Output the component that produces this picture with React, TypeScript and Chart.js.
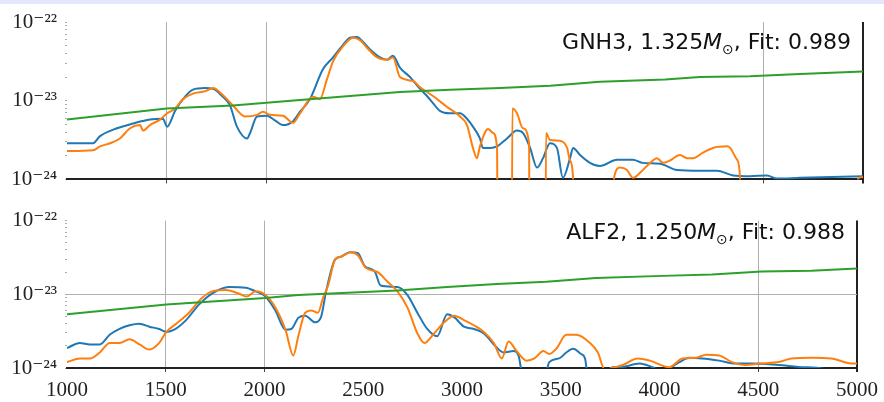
import React, { useEffect, useRef } from 'react';
import { Chart, registerables } from 'chart.js';

Chart.register(...registerables);

// ---- axis ticks ----
const xTickValues = [1000, 1500, 2000, 2500, 3000, 3500, 4000, 4500, 5000];
const xTickLabels = ['1000', '1500', '2000', '2500', '3000', '3500', '4000', '4500', '5000'];
const xGridShown = [1500, 2000, 4500];
const yTickValues = [1e-24, 1e-23, 1e-22];
const yTickLabels = ['10⁻²⁴', '10⁻²³', '10⁻²²'];

// ---- panel labels ----
const panelNames = ['GNH3', 'ALF2'];
const panelMasses = ['1.325', '1.250'];
const panelFits = ['0.989', '0.988'];

// ---- series: [wavelength, log10(value)] ----
const topBlue: [number, number][] = [
  [1000, -23.54], [1131, -23.54], [1166, -23.45], [1251, -23.35], [1332, -23.29], [1417, -23.24], [1482, -23.23],
  [1503, -23.33], [1543, -23.13], [1583, -22.98], [1633, -22.86], [1693, -22.84], [1734, -22.85], [1779, -22.94],
  [1819, -23.06], [1854, -23.33], [1905, -23.48], [1920, -23.41], [1955, -23.2], [2005, -23.19], [2045, -23.25],
  [2085, -23.31], [2136, -23.26], [2171, -23.14], [2221, -22.98], [2286, -22.6], [2337, -22.45], [2387, -22.29],
  [2422, -22.2], [2457, -22.19], [2487, -22.25], [2523, -22.35], [2573, -22.45], [2608, -22.48], [2638, -22.43],
  [2673, -22.58], [2724, -22.7], [2774, -22.85], [2809, -22.94], [2839, -23.03], [2874, -23.13], [2925, -23.16],
  [2975, -23.16], [3010, -23.23], [3040, -23.33], [3075, -23.48], [3090, -23.6], [3126, -23.6], [3161, -23.58],
  [3211, -23.48], [3261, -23.38], [3291, -23.41], [3327, -23.6], [3362, -23.85], [3392, -23.73], [3427, -23.54],
  [3462, -23.6], [3492, -23.98], [3528, -23.73], [3543, -23.6], [3578, -23.69], [3628, -23.79], [3678, -23.83],
  [3764, -23.75], [3844, -23.75], [3894, -23.79], [3980, -23.8], [4065, -23.88], [4181, -23.89], [4266, -23.89],
  [4347, -23.95], [4432, -23.96], [4518, -23.95], [4568, -23.99], [4683, -23.98], [5000, -23.96],
];

const topOrange: [number, number][] = [
  [1000, -23.64], [1131, -23.63], [1166, -23.58], [1216, -23.54], [1266, -23.48], [1317, -23.35], [1367, -23.31],
  [1382, -23.38], [1417, -23.31], [1467, -23.24], [1503, -23.16], [1543, -23.1], [1583, -22.98], [1633, -22.91],
  [1693, -22.88], [1734, -22.84], [1784, -22.93], [1834, -23.06], [1894, -23.2], [1955, -23.18], [1985, -23.14],
  [2020, -23.18], [2085, -23.19], [2136, -23.28], [2171, -23.16], [2236, -22.95], [2271, -22.98], [2306, -22.73],
  [2337, -22.5], [2387, -22.31], [2437, -22.2], [2472, -22.23], [2508, -22.33], [2558, -22.45], [2608, -22.48],
  [2638, -22.45], [2673, -22.7], [2739, -22.75], [2774, -22.83], [2839, -22.94], [2910, -23.08], [2975, -23.2],
  [3010, -23.31], [3040, -23.6], [3060, -23.73], [3075, -23.58], [3116, -23.36], [3141, -23.41], [3161, -23.6],
  [3166, -26], [3234, -26], [3238, -23.1], [3261, -23.16], [3291, -23.35], [3322, -23.54], [3325, -26],
  [3403, -26], [3407, -23.41], [3427, -23.5], [3477, -23.51], [3513, -23.6], [3528, -23.76], [3543, -23.98],
  [3550, -26], [3742, -26], [3749, -23.98], [3779, -23.85], [3814, -23.88], [3844, -23.98], [3894, -23.88],
  [3930, -23.79], [3965, -23.73], [3995, -23.79], [4030, -23.76], [4080, -23.69], [4116, -23.73], [4146, -23.73],
  [4196, -23.66], [4246, -23.6], [4317, -23.58], [4332, -23.6], [4367, -23.75], [4382, -23.98], [4390, -26],
  [4960, -26], [4975, -23.99], [5000, -23.97],
];

const topGreen: [number, number][] = [
  [1000, -23.24], [1500, -23.1], [1834, -23.06], [2171, -22.99], [2422, -22.94], [2673, -22.89], [2925, -22.86],
  [3176, -22.84], [3427, -22.81], [3678, -22.76], [4005, -22.73], [4181, -22.7], [4432, -22.69], [4683, -22.66],
  [5000, -22.63],
];

const bottomBlue: [number, number][] = [
  [1000, -23.73], [1065, -23.66], [1116, -23.68], [1166, -23.68], [1216, -23.55], [1266, -23.47], [1317, -23.42],
  [1367, -23.4], [1417, -23.44], [1467, -23.47], [1503, -23.51], [1543, -23.48], [1603, -23.35], [1668, -23.14],
  [1734, -22.99], [1819, -22.9], [1905, -22.91], [1955, -22.96], [2005, -23.03], [2055, -23.22], [2106, -23.48],
  [2136, -23.47], [2171, -23.32], [2206, -23.29], [2256, -23.38], [2286, -23.31], [2312, -22.96], [2357, -22.53],
  [2387, -22.49], [2432, -22.43], [2472, -22.44], [2508, -22.62], [2558, -22.69], [2588, -22.88], [2673, -22.9],
  [2724, -23.01], [2774, -23.25], [2824, -23.47], [2874, -23.57], [2925, -23.27], [2960, -23.31], [3010, -23.44],
  [3060, -23.47], [3111, -23.53], [3161, -23.68], [3211, -23.79], [3261, -23.77], [3286, -23.83], [3320, -24.3],
  [3405, -24.3], [3442, -23.92], [3492, -23.87], [3528, -23.79], [3563, -23.74], [3603, -23.81], [3623, -23.87],
  [3645, -24.3], [3715, -24.3], [3760, -23.99], [3799, -23.99], [3899, -23.94], [3965, -23.99], [4000, -24.03],
  [4050, -24.0], [4101, -23.92], [4151, -23.86], [4216, -23.87], [4302, -23.9], [4387, -23.94], [4467, -23.94],
  [4603, -23.96], [4739, -23.99], [4854, -24.03], [4870, -24.3],
];

const bottomOrange: [number, number][] = [
  [1000, -23.92], [1065, -23.87], [1116, -23.87], [1166, -23.79], [1216, -23.66], [1266, -23.66], [1317, -23.61],
  [1367, -23.68], [1417, -23.75], [1467, -23.66], [1503, -23.51], [1553, -23.4], [1618, -23.25], [1683, -23.05],
  [1734, -22.96], [1804, -22.94], [1869, -22.99], [1910, -23.03], [1955, -22.96], [2005, -23.01], [2055, -23.18],
  [2106, -23.48], [2146, -23.83], [2171, -23.57], [2206, -23.25], [2236, -23.22], [2271, -23.25], [2296, -23.05],
  [2322, -22.88], [2357, -22.53], [2387, -22.49], [2437, -22.43], [2472, -22.47], [2513, -22.64], [2573, -22.7],
  [2623, -22.83], [2673, -22.96], [2724, -23.18], [2774, -23.53], [2809, -23.66], [2859, -23.53], [2910, -23.38],
  [2960, -23.29], [3010, -23.35], [3060, -23.42], [3111, -23.51], [3161, -23.66], [3201, -23.87], [3236, -23.64],
  [3276, -23.77], [3327, -23.9], [3367, -23.87], [3412, -23.77], [3442, -23.81], [3477, -23.74], [3528, -23.55],
  [3578, -23.55], [3648, -23.66], [3688, -23.79], [3724, -24.03], [3759, -24.0], [3814, -23.96], [3889, -23.87],
  [3950, -23.9], [4050, -23.99], [4116, -23.87], [4186, -23.86], [4236, -23.82], [4302, -23.83], [4367, -23.92],
  [4437, -23.96], [4503, -23.94], [4603, -23.92], [4668, -23.87], [4769, -23.86], [4869, -23.87], [4980, -23.94],
  [5000, -23.94],
];

const bottomGreen: [number, number][] = [
  [1000, -23.27], [1503, -23.14], [2005, -23.05], [2171, -23.01], [2673, -22.95], [2925, -22.9], [3176, -22.86],
  [3427, -22.83], [3678, -22.78], [4015, -22.75], [4266, -22.73], [4518, -22.69], [4769, -22.68], [5000, -22.65],
];

const BLUE = '#1f77b4';
const ORANGE = '#ff7f0e';
const GREEN = '#2ca02c';
const TRANSPARENT = 'rgba(0,0,0,0)';
const serif = '"Liberation Serif", "DejaVu Serif", serif';
const sans = '"DejaVu Sans", sans-serif';

const toPoints = (arr: [number, number][]) => arr.map(([x, e]) => ({ x, y: Math.pow(10, e) }));

const labelFor = (v: number) => {
  const i = yTickValues.findIndex((t) => Math.abs(v / t - 1) < 1e-6);
  return i >= 0 ? yTickLabels[i] : '';
};

const allYTicks = () => {
  const out: number[] = [];
  for (let d = -24; d < -22; d++) {
    for (let m = 1; m <= 9; m++) out.push(m * Math.pow(10, d));
  }
  out.push(1e-22);
  return out;
};

const panelLabelPlugin = {
  id: 'panelLabel',
  afterDraw(chart: any, _args: any, opts: any) {
    const { ctx } = chart;
    const parts = [
      { t: `${opts.name}, ${opts.mass}`, f: `22px ${sans}`, dy: 0 },
      { t: 'M', f: `italic 22px ${sans}`, dy: 0 },
      { t: '⊙', f: `14px ${sans}`, dy: 5 },
      { t: `, Fit: ${opts.fit}`, f: `22px ${sans}`, dy: 0 },
    ];
    ctx.save();
    ctx.fillStyle = '#111';
    ctx.textBaseline = 'alphabetic';
    ctx.textAlign = 'left';
    const widths = parts.map((p) => {
      ctx.font = p.f;
      return ctx.measureText(p.t).width;
    });
    const total = widths.reduce((a, b) => a + b, 0);
    let x = opts.right - total;
    const base = opts.mid + 8;
    parts.forEach((p, i) => {
      ctx.font = p.f;
      ctx.fillText(p.t, x, base + p.dy);
      x += widths[i];
    });
    ctx.restore();
  },
};

function makeConfig(
  blue: [number, number][],
  orange: [number, number][],
  green: [number, number][],
  idx: number,
  isBottom: boolean
): any {
  return {
    type: 'line',
    data: {
      datasets: [
        { data: toPoints(green), borderColor: GREEN, borderWidth: 2, pointRadius: 0, tension: 0, order: 0 },
        { data: toPoints(orange), borderColor: ORANGE, borderWidth: 2, pointRadius: 0, cubicInterpolationMode: 'monotone', order: 1 },
        { data: toPoints(blue), borderColor: BLUE, borderWidth: 2, pointRadius: 0, cubicInterpolationMode: 'monotone', order: 2 },
      ],
    },
    options: {
      responsive: false,
      animation: false,
      events: [],
      layout: { padding: { top: isBottom ? 14 : 22, right: 21, bottom: 0, left: 0 } },
      plugins: {
        legend: { display: false },
        tooltip: { enabled: false },
        panelLabel: {
          name: panelNames[idx],
          mass: panelMasses[idx],
          fit: panelFits[idx],
          right: isBottom ? 845 : 851,
          mid: isBottom ? 31 : 41,
        },
      },
      scales: {
        x: {
          type: 'linear',
          min: 1000,
          max: 5000,
          afterBuildTicks: (s: any) => {
            s.ticks = xTickValues.map((v) => ({ value: v }));
          },
          afterFit: (s: any) => {
            s.height = isBottom ? 34 : 18;
          },
          grid: {
            color: (c: any) => {
              const v = c.tick?.value;
              if (v === 5000) return '#222';
              return xGridShown.includes(v) ? '#b0b0b0' : TRANSPARENT;
            },
            lineWidth: (c: any) => (c.tick?.value === 5000 ? 2 : 1),
            tickColor: (c: any) => {
              const v = c.tick?.value;
              if (v === 5000) return '#222';
              return xGridShown.includes(v) ? '#444' : TRANSPARENT;
            },
            tickLength: 4,
            drawTicks: true,
          },
          border: { display: true, color: '#222', width: 2 },
          ticks: {
            display: isBottom,
            autoSkip: false,
            maxRotation: 0,
            padding: 6,
            color: '#222',
            font: { family: serif, size: 21 },
            callback: (v: number) => {
              const i = xTickValues.indexOf(v);
              return i >= 0 ? xTickLabels[i] : '';
            },
          },
        },
        y: {
          type: 'logarithmic',
          min: 1e-24,
          max: 1e-22,
          afterBuildTicks: (s: any) => {
            s.ticks = allYTicks().map((v) => ({ value: v }));
          },
          afterFit: (s: any) => {
            s.width = 67;
          },
          grid: {
            color: (c: any) => {
              const v = c.tick?.value;
              return isBottom && v && Math.abs(v / 1e-23 - 1) < 1e-6 ? '#b0b0b0' : TRANSPARENT;
            },
            tickColor: '#aaa',
            tickLength: 2,
            drawTicks: true,
          },
          border: { display: false },
          ticks: {
            autoSkip: false,
            padding: 8,
            color: '#222',
            font: { family: serif, size: 21 },
            callback: (v: number) => labelFor(v),
          },
        },
      },
    },
    plugins: [panelLabelPlugin],
  };
}

export default function App() {
  const topRef = useRef<HTMLCanvasElement>(null);
  const bottomRef = useRef<HTMLCanvasElement>(null);

  useEffect(() => {
    document.body.style.margin = '0';
    const charts: Chart[] = [];
    if (topRef.current) {
      charts.push(new Chart(topRef.current, makeConfig(topBlue, topOrange, topGreen, 0, false)));
    }
    if (bottomRef.current) {
      charts.push(new Chart(bottomRef.current, makeConfig(bottomBlue, bottomOrange, bottomGreen, 1, true)));
    }
    return () => charts.forEach((c) => c.destroy());
  }, []);

  return (
    <div style={{ position: 'relative', width: 884, height: 402, background: '#fff', overflow: 'hidden' }}>
      <div style={{ position: 'absolute', left: 0, top: 0, width: 884, height: 4, background: '#e6e6fa' }} />
      <canvas ref={topRef} width={884} height={200} style={{ position: 'absolute', left: 0, top: 0, width: 884, height: 200 }} />
      <canvas ref={bottomRef} width={884} height={202} style={{ position: 'absolute', left: 0, top: 200, width: 884, height: 202 }} />
    </div>
  );
}
